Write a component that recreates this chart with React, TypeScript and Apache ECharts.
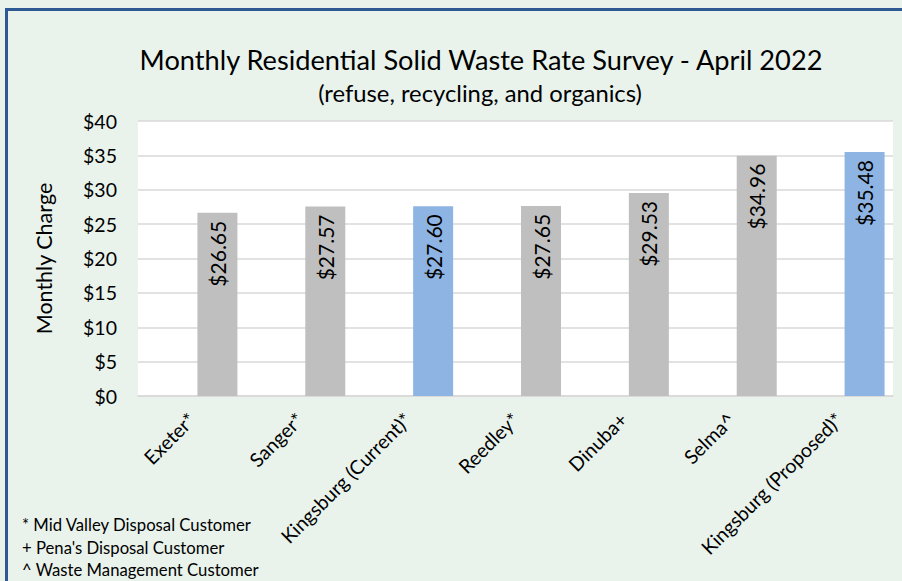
import React, { useEffect, useRef } from "react";
import * as echarts from "echarts";

const categories = [
  "Exeter*",
  "Sanger*",
  "Kingsburg (Current)*",
  "Reedley*",
  "Dinuba+",
  "Selma^",
  "Kingsburg (Proposed)*",
];
const rates = [26.65, 27.57, 27.6, 27.65, 29.53, 34.96, 35.48];
const highlighted = [false, false, true, false, false, false, true];
const yTicks = { min: 0, max: 40, interval: 5 };
const titleText = "Monthly Residential Solid Waste Rate Survey - April 2022";
const subtitleText = "(refuse, recycling, and organics)";
const footnotes = [
  "* Mid Valley Disposal Customer",
  "+ Pena's Disposal Customer",
  "^ Waste Management Customer",
];

const FONT = "Lato, 'Open Sans', sans-serif";
const GRAY = "#BFBFBF";
const BLUE = "#8EB4E3";

export default function App() {
  const ref = useRef<HTMLDivElement>(null);
  useEffect(() => {
    if (!ref.current) return;
    const chart = echarts.init(ref.current, undefined, { renderer: "svg" });
    chart.setOption({
      animation: false,
      backgroundColor: "#E9F3EC",
      textStyle: { fontFamily: FONT },
      grid: { left: 138, right: 9, top: 121, bottom: 185, backgroundColor: "#FFFFFF", show: true, borderWidth: 0 },
      xAxis: {
        type: "category",
        data: categories,
        axisLine: { lineStyle: { color: "#D9D9D9", width: 1.5 } },
        axisTick: { show: false },
        axisLabel: {
          rotate: 45,
          interval: 0,
          fontSize: 19.5,
          color: "#000",
          fontFamily: FONT,
          margin: 20,
        },
      },
      yAxis: {
        type: "value",
        min: yTicks.min,
        max: yTicks.max,
        interval: yTicks.interval,
        name: "Monthly Charge",
        nameLocation: "middle",
        nameGap: 83,
        nameRotate: 90,
        nameTextStyle: { fontSize: 21.5, color: "#000", fontFamily: FONT },
        axisLine: { show: false },
        axisTick: { show: false },
        axisLabel: {
          fontSize: 19.5,
          color: "#000",
          margin: 21,
          fontFamily: FONT,
          formatter: (v: number) => "$" + v,
        },
        splitLine: { lineStyle: { color: "#D9D9D9", width: 1.5 } },
      },
      series: [
        {
          type: "bar",
          data: categories.map(() => null),
          barWidth: 40,
          barGap: "27.5%",
          silent: true,
        },
        {
          type: "bar",
          barWidth: 40,
          barGap: "27.5%",
          data: rates.map((v, i) => ({
            value: v,
            itemStyle: { color: highlighted[i] ? BLUE : GRAY },
          })),
          label: {
            show: true,
            position: "insideTop",
            rotate: 90,
            align: "right",
            verticalAlign: "middle",
            distance: 8,
            fontSize: 21,
            color: "#000",
            fontFamily: FONT,
            formatter: (p: any) => "$" + Number(p.value).toFixed(2),
          },
        },
      ],
      graphic: [
        {
          type: "rect",
          shape: { x: 6.5, y: 9.5, width: 910, height: 600 },
          style: { fill: "none", stroke: "#2E5A94", lineWidth: 3 },
          silent: true,
        },
        {
          type: "text",
          x: 481,
          y: 59,
          style: {
            text: titleText,
            fontSize: 27.2,
            fontFamily: FONT,
            fill: "#000",
            textAlign: "center",
            textVerticalAlign: "middle",
          },
        },
        {
          type: "text",
          x: 480,
          y: 93,
          style: {
            text: subtitleText,
            fontSize: 23.8,
            fontFamily: FONT,
            fill: "#000",
            textAlign: "center",
            textVerticalAlign: "middle",
          },
        },
        ...footnotes.map((t, i) => ({
          type: "text",
          x: 22,
          y: 525 + i * 22.5,
          style: {
            text: t,
            fontSize: 16.7,
            fontFamily: FONT,
            fill: "#000",
            textAlign: "left",
            textVerticalAlign: "middle",
          },
        })),
      ],
    });
    return () => chart.dispose();
  }, []);
  return (
    <div
      ref={ref}
      style={{ position: "fixed", left: 0, top: 0, width: 902, height: 581 }}
    />
  );
}
